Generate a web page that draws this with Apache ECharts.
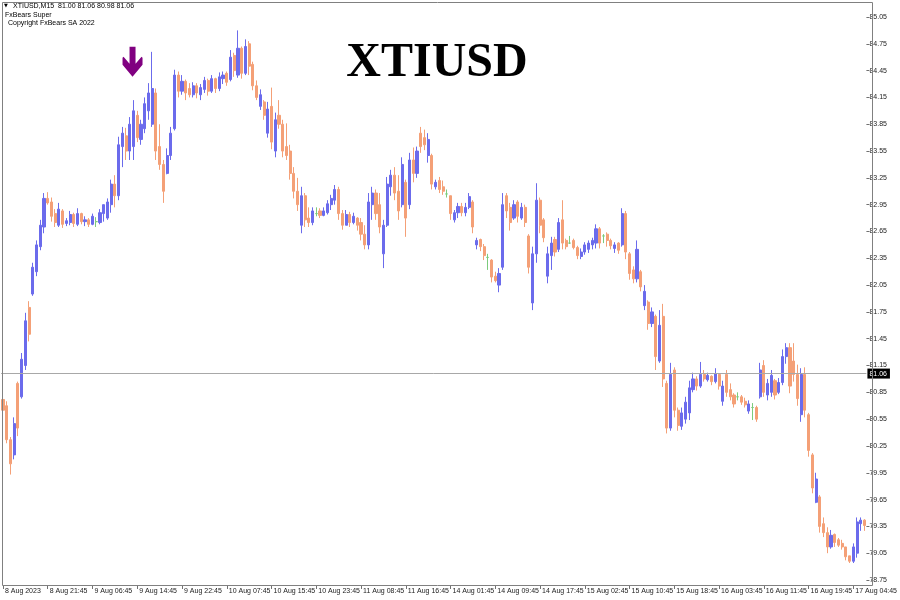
<!DOCTYPE html>
<html>
<head>
<meta charset="utf-8">
<script src="https://cdn.jsdelivr.net/npm/echarts@6/dist/echarts.min.js"></script>
<style>html,body{margin:0;padding:0;background:#fff}#c{width:900px;height:600px}</style>
</head>
<body>
<div id="c"></div>
<script>
// x-axis tick labels (one every 12 bars)
const tickLabels = ["8 Aug 2023","8 Aug 21:45","9 Aug 06:45","9 Aug 14:45","9 Aug 22:45","10 Aug 07:45","10 Aug 15:45","10 Aug 23:45","11 Aug 08:45","11 Aug 16:45","14 Aug 01:45","14 Aug 09:45","14 Aug 17:45","15 Aug 02:45","15 Aug 10:45","15 Aug 18:45","16 Aug 03:45","16 Aug 11:45","16 Aug 19:45","17 Aug 04:45"];
const barsPerLabel = 12;

const opens = [
80.77,80.70,80.32,80.15,80.95,80.80,81.15,81.80,81.95,82.20,82.48,82.70,
83.02,82.98,82.85,82.72,82.88,82.74,82.75,82.84,82.73,82.85,82.76,82.78,
82.73,82.76,82.75,82.85,82.80,82.95,83.18,83.05,83.60,83.72,83.55,83.60,
83.95,83.68,83.80,84.00,83.85,84.20,83.60,83.40,83.30,83.50,83.80,84.40,
84.22,84.33,84.25,84.18,84.28,84.18,84.24,84.34,84.22,84.36,84.25,84.36,
84.42,84.35,84.62,84.40,84.70,84.42,84.75,84.52,84.28,84.05,84.10,83.75,
84.05,83.55,83.95,83.85,83.60,83.55,83.30,83.10,82.72,83.05,82.80,82.75,
82.85,82.88,82.83,82.86,82.95,83.00,83.12,82.85,82.72,82.84,82.75,82.80,
82.75,82.62,82.50,82.95,83.08,82.95,82.40,82.72,83.15,83.28,83.10,82.95,
83.20,82.95,83.45,83.30,83.75,83.70,83.50,83.50,83.15,83.22,83.15,83.07,
83.05,82.78,82.86,82.93,82.86,82.92,82.98,82.50,82.56,82.48,82.36,82.33,
82.15,82.05,82.25,83.05,82.92,82.80,82.98,82.80,82.92,82.60,81.85,82.40,
83.00,82.78,82.15,82.38,82.56,82.45,82.78,82.55,82.52,82.55,82.47,82.37,
82.42,82.45,82.50,82.52,82.68,82.60,82.62,82.55,82.46,82.52,82.50,82.85,
82.40,82.22,82.12,82.20,81.82,81.86,81.62,81.70,81.20,81.70,80.95,80.45,
81.10,80.65,80.47,80.55,80.62,80.88,81.00,80.92,81.05,80.99,81.03,80.97,
81.05,80.75,81.05,80.88,80.82,80.80,80.80,80.75,80.64,80.68,80.68,80.80,
81.15,80.82,80.85,80.98,80.85,80.96,81.25,81.35,81.20,81.05,80.60,81.05,
80.60,80.15,79.62,79.68,79.38,79.28,79.12,79.26,79.20,79.16,79.12,79.02,
78.96,79.05,79.38,79.42];
const highs = [
80.82,80.75,80.35,80.57,80.97,81.29,81.74,81.87,82.30,82.55,82.78,83.08,
83.09,83.03,82.90,82.97,82.90,82.80,82.88,82.86,82.91,82.86,82.82,82.80,
82.85,82.81,82.90,82.95,83.02,83.23,83.28,83.71,83.82,83.81,83.93,84.12,
84.00,83.90,84.15,84.31,84.66,84.25,83.85,83.45,83.58,83.82,84.46,84.44,
84.40,84.35,84.31,84.32,84.31,84.30,84.38,84.36,84.40,84.37,84.43,84.44,
84.44,84.68,84.65,84.90,84.72,84.80,84.78,84.55,84.34,84.24,84.12,84.10,
84.26,83.98,84.12,83.90,83.86,83.62,83.37,83.25,83.15,83.08,82.92,82.92,
82.92,82.91,82.92,83.00,83.06,83.17,83.15,82.89,82.89,82.87,82.86,82.81,
82.80,82.72,83.08,83.15,83.12,83.08,82.78,83.26,83.34,83.37,83.28,83.48,
83.23,83.53,83.59,83.60,83.82,83.79,83.75,83.52,83.23,83.26,83.22,83.12,
83.05,82.89,82.97,82.97,82.97,83.08,83.00,82.58,82.57,82.51,82.40,82.34,
82.20,82.24,83.08,83.08,82.97,83.00,83.00,82.97,82.95,82.62,82.48,83.19,
83.03,82.80,82.48,82.59,82.59,82.80,83.00,82.57,82.60,82.57,82.49,82.46,
82.53,82.55,82.58,82.73,82.70,82.62,82.64,82.57,82.53,82.53,82.91,82.88,
82.42,82.26,82.55,82.22,82.05,81.88,81.80,81.72,81.77,81.84,80.98,81.18,
81.13,80.68,80.68,80.80,80.98,81.07,81.03,81.19,81.10,81.07,81.04,81.12,
81.06,80.98,81.10,80.95,80.84,80.85,80.82,80.79,80.76,80.73,80.70,81.18,
81.21,81.00,81.10,81.00,81.01,81.33,81.40,81.40,81.40,81.16,81.12,81.13,
80.62,80.17,79.95,79.70,79.45,79.34,79.31,79.27,79.22,79.20,79.12,79.02,
79.16,79.45,79.45,79.43];
const lows = [
80.57,80.28,79.93,80.10,80.36,80.78,81.10,81.42,81.93,82.15,82.44,82.63,
82.95,82.76,82.70,82.70,82.69,82.71,82.72,82.70,82.71,82.73,82.71,82.70,
82.72,82.70,82.73,82.76,82.78,82.86,82.92,83.00,83.37,83.45,83.45,83.45,
83.65,83.62,83.75,83.90,83.82,83.45,83.34,82.97,83.29,83.45,83.78,84.15,
84.18,84.12,84.15,84.15,84.14,84.12,84.20,84.17,84.20,84.20,84.22,84.30,
84.28,84.33,84.38,84.37,84.36,84.40,84.40,84.23,84.12,84.01,83.90,83.70,
83.57,83.48,83.80,83.48,83.45,83.23,83.02,82.88,82.63,82.70,82.70,82.72,
82.82,82.80,82.82,82.84,82.89,82.95,82.78,82.67,82.72,82.70,82.73,82.66,
82.55,82.45,82.45,82.78,82.78,82.63,82.24,82.70,83.05,83.00,82.78,82.92,
82.59,82.90,83.20,83.25,83.53,83.56,83.42,83.12,83.12,83.08,83.06,83.03,
82.78,82.75,82.80,82.82,82.82,82.90,82.63,82.45,82.43,82.33,82.22,82.08,
82.08,81.97,82.22,82.80,82.66,82.78,82.75,82.78,82.70,82.18,81.77,82.30,
82.63,82.53,82.07,82.22,82.37,82.42,82.45,82.45,82.51,82.45,82.34,82.34,
82.39,82.41,82.45,82.46,82.46,82.52,82.48,82.45,82.41,82.40,82.48,82.34,
82.11,82.07,82.08,81.98,81.77,81.55,81.58,81.10,81.18,80.91,80.39,80.42,
80.57,80.42,80.43,80.50,80.54,80.85,80.87,80.90,80.97,80.97,80.93,80.95,
80.88,80.70,80.80,80.76,80.68,80.76,80.71,80.68,80.61,80.54,80.52,80.78,
80.80,80.76,80.80,80.77,80.83,80.93,81.17,80.84,80.97,80.70,80.52,80.57,
80.13,79.72,79.61,79.28,79.23,79.05,79.10,79.12,79.12,79.09,78.97,78.94,
78.94,79.00,79.30,79.30];
const closes = [
80.65,80.32,80.05,80.50,80.45,81.22,81.65,81.50,82.25,82.50,82.72,83.02,
82.97,82.82,82.75,82.90,82.73,82.77,82.84,82.74,82.85,82.76,82.78,82.73,
82.82,82.76,82.86,82.95,82.98,83.18,83.05,83.62,83.75,83.55,83.85,84.00,
83.70,83.85,84.08,84.20,84.25,83.55,83.40,83.10,83.50,83.75,84.40,84.22,
84.33,84.20,84.18,84.28,84.20,84.26,84.34,84.22,84.36,84.25,84.38,84.40,
84.32,84.60,84.45,84.70,84.42,84.72,84.50,84.28,84.15,84.18,83.95,84.02,
83.65,83.90,83.85,83.55,83.50,83.30,83.10,82.95,83.05,82.78,82.75,82.88,
82.85,82.83,82.88,82.96,83.02,83.12,82.85,82.72,82.84,82.75,82.82,82.72,
82.62,82.50,82.98,83.08,82.85,82.70,82.72,83.18,83.28,83.08,82.88,83.40,
82.80,83.45,83.30,83.55,83.60,83.62,83.68,83.18,83.20,83.12,83.10,83.07,
82.85,82.86,82.93,82.86,82.92,83.04,82.70,82.55,82.48,82.38,82.36,82.14,
82.10,82.18,82.95,82.88,82.75,82.95,82.82,82.92,82.75,82.25,82.40,83.00,
82.72,82.58,82.40,82.52,82.42,82.75,82.52,82.48,82.52,82.47,82.38,82.42,
82.50,82.52,82.55,82.68,82.52,82.60,82.55,82.49,82.50,82.44,82.85,82.42,
82.18,82.12,82.45,82.03,81.98,81.62,81.75,81.25,81.60,81.00,80.45,81.05,
80.65,80.48,80.62,80.74,80.90,81.00,80.92,81.05,81.00,81.04,80.97,81.06,
80.92,80.92,80.85,80.80,80.72,80.80,80.74,80.71,80.72,80.68,80.55,81.10,
80.85,80.95,81.04,80.82,80.96,81.25,81.35,80.92,81.05,80.78,81.05,80.65,
80.20,79.78,79.88,79.35,79.28,79.12,79.25,79.17,79.14,79.12,79.01,78.96,
79.12,79.40,79.42,79.36];

const headerLine = "XTIUSD,M15  81.00 81.06 80.98 81.06";
const lastPrice = 81.06;
const signal = [35, 84.55]; // sell arrow: bar index, price

const UP = '#6B6BEC', DOWN = '#F4A077', DOJI = '#7CCB7C';

const cats = opens.map((_, i) => String(i));
const candles = opens.map((o, i) => {
  const item = { value: [o, closes[i], lows[i], highs[i]] };
  if (o === closes[i]) item.itemStyle = { color: DOJI, borderColor: DOJI, color0: DOJI, borderColor0: DOJI };
  return item;
});

const FONT = '"Liberation Sans", "DejaVu Sans", sans-serif';
const chart = echarts.init(document.getElementById('c'), null, { renderer: 'canvas' });
chart.setOption({
  animation: false,
  backgroundColor: '#fff',
  grid: { left: 1.125, right: 28, top: 17, bottom: 20 },
  xAxis: {
    type: 'category', data: cats, boundaryGap: true, offset: 5,
    axisLine: { show: false },
    axisTick: { show: true, interval: barsPerLabel - 1, alignWithLabel: true, length: 4, lineStyle: { color: '#707070' } },
    axisLabel: {
      interval: barsPerLabel - 1, align: 'left', margin: 3, fontSize: 7, color: '#222', fontFamily: FONT,
      padding: [0, 0, 0, 2],
      formatter: (v, idx) => tickLabels[Math.round(idx / barsPerLabel)] || ''
    },
    splitLine: { show: false }
  },
  yAxis: {
    type: 'value', position: 'right', min: 78.75, max: 85.05, interval: 0.3, scale: true,
    axisLine: { show: false },
    axisTick: { show: true, length: 3, lineStyle: { color: '#707070' } },
    axisLabel: { margin: 3, fontSize: 7, color: '#222', fontFamily: FONT, formatter: v => v.toFixed(2) },
    splitLine: { show: false }
  },
  series: [{
    type: 'candlestick', data: candles, barWidth: 2.6,
    itemStyle: { color: UP, color0: DOWN, borderColor: UP, borderColor0: DOWN, borderWidth: 1 },
    markLine: {
      silent: true, symbol: ['none', 'none'], animation: false,
      data: [{ yAxis: lastPrice }],
      lineStyle: { color: '#A8A8A8', width: 1, type: 'solid' },
      label: { position: 'end', distance: 1, formatter: lastPrice.toFixed(2), backgroundColor: '#000', color: '#fff',
               fontSize: 7, fontFamily: FONT, padding: [2, 3, 1, 2] }
    }
  }, {
    type: 'scatter', data: [signal], silent: true, z: 5,
    symbol: 'path://M7,0 L13,0 L13,17 L19,10 L20,11 L20,18 L10,30 L0,18 L0,11 L1,10 L7,17 Z',
    symbolSize: [20, 30], symbolOffset: [-1, 0],
    itemStyle: { color: '#800080', opacity: 1 }
  }],
  graphic: [
    { type: 'rect', silent: true, z: 10, shape: { x: 2.5, y: 2.5, width: 870, height: 583 },
      style: { fill: 'none', stroke: '#808080', lineWidth: 1 } },
    { type: 'text', x: 4, y: 3, z: 10, style: { text: '\u25BC', font: '5px "DejaVu Sans"', fill: '#000' } },
    { type: 'text', x: 13, y: 3, z: 10, style: { text: headerLine, font: '7px ' + FONT, fill: '#000' } },
    { type: 'text', x: 5, y: 12, z: 10, style: { text: 'FxBears Super', font: '7px ' + FONT, fill: '#000' } },
    { type: 'text', x: 8, y: 20, z: 10, style: { text: 'Copyright FxBears SA 2022', font: '7px ' + FONT, fill: '#000' } },
    { type: 'text', x: 437, y: 64, z: 10, style: { text: 'XTIUSD', font: 'bold 48px "Liberation Serif"', fill: '#000',
      textAlign: 'center', textVerticalAlign: 'middle' } }
  ]
});
</script>
</body>
</html>
